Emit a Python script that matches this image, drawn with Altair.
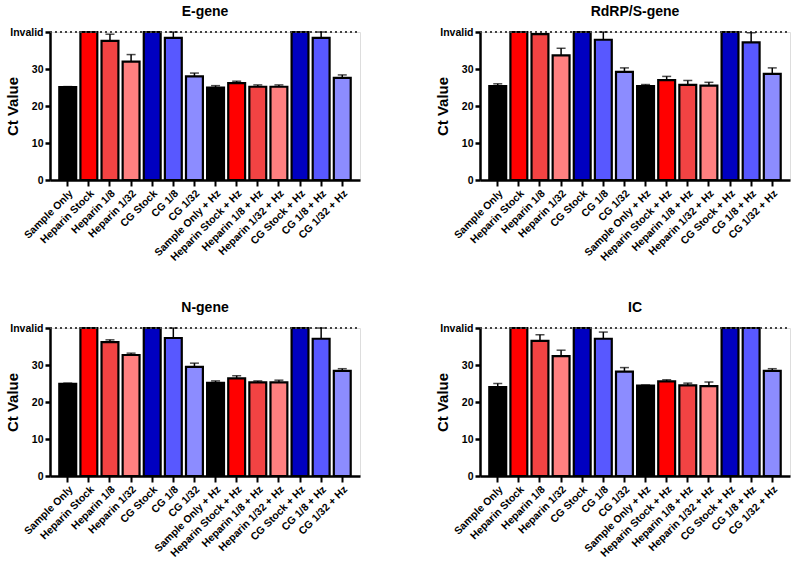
import altair as alt
import pandas as pd

conditions = [
    "Sample Only", "Heparin Stock", "Heparin 1/8", "Heparin 1/32",
    "CG Stock", "CG 1/8", "CG 1/32",
    "Sample Only + Hz", "Heparin Stock + Hz", "Heparin 1/8 + Hz",
    "Heparin 1/32 + Hz", "CG Stock + Hz", "CG 1/8 + Hz", "CG 1/32 + Hz",
]
bar_colors = [
    "#000000", "#FF0000", "#F24343", "#FF8080", "#0000C0", "#5858FF", "#8C8CFF",
    "#000000", "#FF0000", "#F24343", "#FF8080", "#0000C0", "#5858FF", "#8C8CFF",
]

# Mean Ct values (40 = invalid / no amplification) and SD per target
e_mean = [25.1, 40, 37.6, 32.0, 40, 38.4, 28.0, 25.0, 26.2, 25.2, 25.2, 40, 38.4, 27.6]
e_sd = [0.15, 0, 1.8, 1.9, 0, 1.6, 0.9, 0.5, 0.5, 0.5, 0.5, 0, 1.6, 0.8]

rdrp_mean = [25.4, 40, 39.4, 33.7, 40, 37.9, 29.2, 25.4, 27.0, 25.7, 25.5, 40, 37.2, 28.7]
rdrp_sd = [0.6, 0, 0, 1.9, 0, 2.1, 1.1, 0.4, 1.0, 1.2, 0.9, 0, 2.6, 1.6]

n_mean = [24.9, 40, 36.2, 32.7, 40, 37.3, 29.5, 25.2, 26.4, 25.3, 25.3, 40, 37.1, 28.4]
n_sd = [0.2, 0, 0.6, 0.5, 0, 2.7, 1.0, 0.5, 0.7, 0.4, 0.6, 0, 2.9, 0.6]

ic_mean = [24.0, 40, 36.5, 32.4, 40, 37.1, 28.2, 24.4, 25.6, 24.5, 24.3, 40, 40, 28.4]
ic_sd = [1.0, 0, 1.7, 1.6, 0, 1.8, 1.1, 0.2, 0.4, 0.6, 1.1, 0, 0, 0.6]

y_ticks = [0, 10, 20, 30, 40]

FONT = "Liberation Sans"
PLOT_W = 310
PLOT_H = 148

x_axis = alt.Axis(
    title=None, labelAngle=-45, labelFont=FONT, labelFontWeight="bold",
    labelFontSize=10.5, labelColor="black", tickColor="black",
    tickWidth=2, tickSize=6, domainColor="black", domainWidth=2.5,
    labelPadding=2, labelOverlap=False,
)
y_axis = alt.Axis(
    title="Ct Value", titleFont=FONT, titleFontSize=15,
    titleFontWeight="bold", titleColor="black",
    titleX=-30, titleY=PLOT_H / 2, titleAngle=-90,
    titleAlign="center", titleBaseline="bottom",
    values=y_ticks,
    labelExpr="datum.value == 40 ? 'Invalid' : datum.label",
    labelFont=FONT, labelFontWeight="bold", labelFontSize=10.5,
    labelColor="black", tickColor="black", tickWidth=2.5,
    tickSize=5, domainColor="black", domainWidth=2.5, grid=False,
    labelOverlap=False, labelPadding=2,
)
x_scale = alt.Scale(paddingInner=0.2, paddingOuter=0.44)
y_scale = alt.Scale(domain=[0, 40], nice=False)


def panel(title, means, sds):
    df = pd.DataFrame({"condition": conditions, "ct": means, "sd": sds})
    df["upper"] = df["ct"] + df["sd"]

    xenc = alt.X("condition:N", sort=conditions, scale=x_scale, axis=x_axis)

    bars = alt.Chart(df).mark_bar(stroke="black", strokeWidth=2.2).encode(
        x=xenc,
        y=alt.Y("ct:Q", scale=y_scale, axis=y_axis),
        color=alt.Color(
            "condition:N",
            scale=alt.Scale(domain=conditions, range=bar_colors),
            legend=None,
        ),
    )

    err_src = alt.Chart(df).transform_filter("datum.sd > 0")
    whisker = err_src.mark_rule(color="black", strokeWidth=1.5).encode(
        x=xenc,
        y=alt.Y("ct:Q", scale=y_scale, axis=y_axis),
        y2="upper:Q",
    )
    cap = err_src.mark_tick(color="black", thickness=1.5, size=9).encode(
        x=xenc,
        y=alt.Y("upper:Q", scale=y_scale, axis=y_axis),
    )

    invalid_line = alt.Chart(df).mark_rule(
        color="#444444", strokeWidth=1.3, strokeDash=[2, 3]
    ).encode(
        y=alt.Y(datum=40, scale=y_scale, axis=y_axis),
        x=alt.value(0), x2=alt.value(PLOT_W),
    )

    return alt.layer(bars, invalid_line, whisker, cap).properties(
        width=PLOT_W,
        height=PLOT_H,
        title=alt.TitleParams(
            title, font=FONT, fontSize=14, fontWeight="bold", color="black",
            anchor="middle", offset=8,
        ),
    )


top = alt.hconcat(
    panel("E-gene", e_mean, e_sd), panel("RdRP/S-gene", rdrp_mean, rdrp_sd),
    spacing=72,
)
bottom = alt.hconcat(
    panel("N-gene", n_mean, n_sd), panel("IC", ic_mean, ic_sd),
    spacing=72,
)

chart = (
    alt.vconcat(top, bottom, spacing=36)
    .properties(padding={"left": 4, "top": 4, "right": 2, "bottom": 2})
    .configure_view(stroke=None)
    .configure(background="white")
)

chart.save("out.html", embed_options={"renderer": "svg", "actions": False})
